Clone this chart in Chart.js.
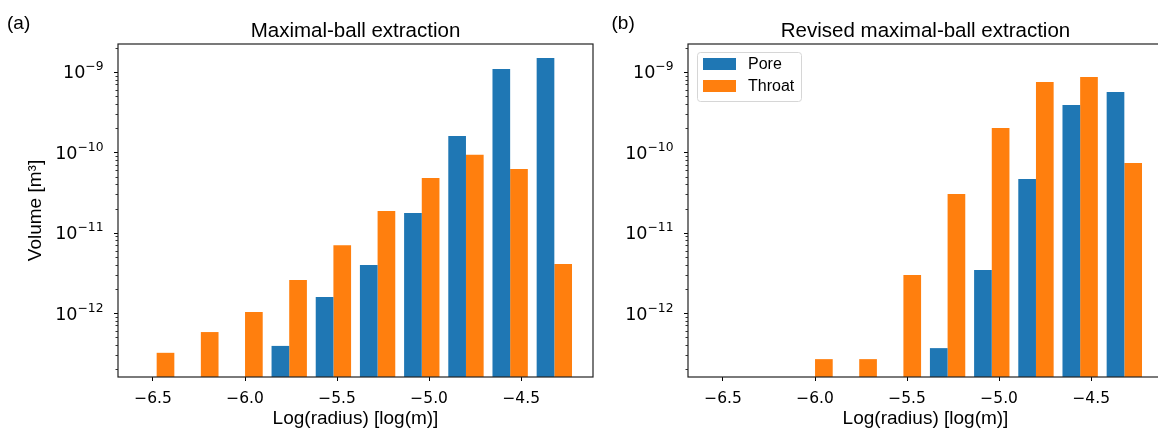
<!DOCTYPE html>
<html>
<head>
<meta charset="utf-8">
<script src="https://cdn.jsdelivr.net/npm/chart.js@4"></script>
<style>
  html, body { margin: 0; padding: 0; background: #fff; overflow: hidden; }
  #wrap { position: relative; width: 1158px; height: 430px; overflow: hidden; }
  canvas { position: absolute; top: 0; }
  #left { left: 0; }
  #right { left: 600px; }
</style>
</head>
<body>
<div id="wrap">
  <canvas id="left" width="600" height="430"></canvas>
  <canvas id="right" width="570" height="430"></canvas>
</div>
<script>
// Histogram bin centres, log10(radius)
const binCenters = [-6.48, -6.24, -6.00, -5.76, -5.52, -5.28, -5.04, -4.80, -4.56, -4.32];

// (a) Maximal-ball extraction, volume in m^3 (null = empty bin)
const poreA = [null, null, null, 3.9e-13, 1.58e-12, 3.95e-12, 1.76e-11, 1.6e-10, 1.09e-9, 1.49e-9];
const throatA = [3.2e-13, 5.8e-13, 1.03e-12, 2.58e-12, 7.0e-12, 1.86e-11, 4.79e-11, 9.3e-11, 6.2e-11, 4.07e-12];

// (b) Revised maximal-ball extraction
const poreB = [null, null, null, null, null, 3.66e-13, 3.43e-12, 4.66e-11, 3.88e-10, 5.64e-10];
const throatB = [null, null, 2.67e-13, 2.67e-13, 2.97e-12, 3.03e-11, 2.01e-10, 7.5e-10, 8.67e-10, 7.36e-11];

const xTicks = [-6.5, -6.0, -5.5, -5.0, -4.5];
const yDecades = [-13, -12, -11, -10, -9];

const PORE = '#1f77b4';
const THROAT = '#ff7f0e';
const SANS = '"Liberation Sans", Arial, sans-serif';
const MATH = '"DejaVu Sans", sans-serif';

Chart.defaults.color = '#000';

function isDecade(v) {
  const l = Math.log10(v);
  return Math.abs(l - Math.round(l)) < 1e-6;
}

function points(values) {
  return binCenters.map((x, i) => ({ x, y: values[i] }));
}

// Frame, y tick marks and labels (10 with raised exponent), title, tag, legend
const panelDecor = {
  id: 'panelDecor',
  afterDatasetsDraw(chart, args, opts) {
    const { ctx, chartArea: a, scales } = chart;
    const y = scales.y;
    ctx.save();
    ctx.strokeStyle = '#000';
    y.ticks.forEach((t) => {
      const major = isDecade(t.value);
      const py = Math.round(y.getPixelForValue(t.value)) + 0.5;
      ctx.lineWidth = major ? 1 : 0.8;
      ctx.beginPath();
      ctx.moveTo(a.left - (major ? 4 : 2.5), py);
      ctx.lineTo(a.left, py);
      ctx.stroke();
    });
    ctx.strokeStyle = '#222';
    ctx.lineWidth = 1.2;
    ctx.strokeRect(a.left, a.top, a.right - a.left, a.bottom - a.top);
    ctx.restore();
  },
  afterDraw(chart, args, opts) {
    const { ctx, chartArea: a, scales } = chart;
    const y = scales.y;
    ctx.save();
    ctx.fillStyle = '#000';

    // y tick labels: "10" + superscript exponent
    ctx.textAlign = 'left';
    ctx.textBaseline = 'alphabetic';
    y.ticks.forEach((t) => {
      if (!isDecade(t.value)) return;
      const e = Math.round(Math.log10(t.value));
      const exp = (e < 0 ? '\u2212' : '') + Math.abs(e);
      const py = y.getPixelForValue(t.value);
      const right = a.left - 14.5;
      ctx.font = '12.3px ' + MATH;
      const ew = ctx.measureText(exp).width;
      ctx.fillText(exp, right - ew, py - 1.5);
      ctx.font = '17.6px ' + MATH;
      const bw = ctx.measureText('10').width;
      ctx.fillText('10', right - ew - bw, py + 6.5);
    });

    ctx.font = '20.5px ' + SANS;
    ctx.textAlign = 'center';
    ctx.fillText(opts.title, (a.left + a.right) / 2, 37);
    ctx.font = '19px ' + SANS;
    ctx.textAlign = 'left';
    ctx.fillText(opts.tag, opts.tagX, 29);

    if (opts.legend) {
      const lx = a.left + 9, ly = a.top + 8, lw = 104, lh = 49;
      ctx.beginPath();
      ctx.roundRect(lx + 0.5, ly + 0.5, lw, lh, 3);
      ctx.fillStyle = 'rgba(255,255,255,0.8)';
      ctx.fill();
      ctx.strokeStyle = '#d6d6d6';
      ctx.lineWidth = 1;
      ctx.stroke();
      ctx.font = '16px ' + SANS;
      ctx.textBaseline = 'middle';
      chart.data.datasets.forEach((ds, i) => {
        const ry = a.top + 14 + i * 22;
        ctx.fillStyle = ds.backgroundColor;
        ctx.fillRect(a.left + 15, ry, 33, 12);
        ctx.fillStyle = '#000';
        ctx.fillText(ds.label, a.left + 60, ry + 6.5);
      });
    }
    ctx.restore();
  },
};

function makeChart(id, pore, throat, cfg) {
  return new Chart(document.getElementById(id), {
    type: 'bar',
    data: {
      datasets: [
        { label: 'Pore', data: points(pore), backgroundColor: PORE, borderWidth: 0 },
        { label: 'Throat', data: points(throat), backgroundColor: THROAT, borderWidth: 0 },
      ],
    },
    options: {
      responsive: false,
      animation: false,
      devicePixelRatio: 1,
      categoryPercentage: 0.8,
      barPercentage: 1.0,
      layout: { padding: { left: 0, right: 7, top: 44, bottom: 0 } },
      plugins: {
        legend: { display: false },
        tooltip: { enabled: false },
        title: { display: false },
        panelDecor: cfg,
      },
      scales: {
        x: {
          type: 'linear',
          min: -6.69,
          max: -4.11,
          offset: false,
          border: { display: false },
          grid: { display: true, offset: false, drawOnChartArea: false, tickLength: 4, tickColor: '#000', tickWidth: 1 },
          afterBuildTicks: (scale) => { scale.ticks = xTicks.map((v) => ({ value: v })); },
          ticks: {
            font: { family: MATH, size: 15.5 },
            color: '#000',
            padding: 9,
            maxRotation: 0,
            autoSkip: false,
            callback: (v) => (v < 0 ? '\u2212' : '') + Math.abs(v).toFixed(1),
          },
          title: {
            display: true,
            text: 'Log(radius) [log(m)]',
            font: { family: SANS, size: 19 },
            color: '#000',
            padding: { top: 0, bottom: 0 },
          },
          afterFit: (scale) => { scale.height = 53; },
        },
        y: {
          type: 'logarithmic',
          min: 1.6e-13,
          max: 2.23e-9,
          border: { display: false },
          grid: { display: false },
          afterBuildTicks: (scale) => {
            const ticks = [];
            yDecades.forEach((e) => {
              for (let m = 1; m <= 9; m++) {
                const v = m * Math.pow(10, e);
                if (v >= scale.min && v <= scale.max) ticks.push({ value: v });
              }
            });
            scale.ticks = ticks;
          },
          ticks: {
            autoSkip: false,
            callback: () => '',
          },
          title: {
            display: cfg.yTitle,
            text: 'Volume [m\u00b3]',
            font: { family: SANS, size: 19 },
            color: '#000',
            padding: { top: 24, bottom: 0 },
          },
          afterFit: (scale) => { scale.width = cfg.yWidth; },
        },
      },
    },
    plugins: [panelDecor],
  });
}

makeChart('left', poreA, throatA, {
  title: 'Maximal-ball extraction', tag: '(a)', tagX: 7, legend: false, yTitle: true, yWidth: 118,
});
makeChart('right', poreB, throatB, {
  title: 'Revised maximal-ball extraction', tag: '(b)', tagX: 11.5, legend: true, yTitle: false, yWidth: 88,
});
</script>
</body>
</html>
